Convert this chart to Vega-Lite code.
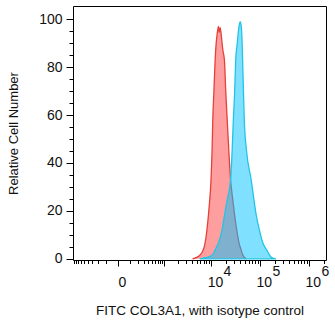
{
  "$schema": "https://vega.github.io/schema/vega-lite/v6.json",
  "width": 253,
  "height": 254,
  "autosize": {"type": "none"},
  "padding": {"left": 73, "top": 6, "right": 9, "bottom": 65},
  "background": "white",
  "config": {
    "view": {"stroke": "#000", "strokeWidth": 1},
    "axis": {
      "labelFont": "Liberation Sans",
      "titleFont": "Liberation Sans",
      "labelColor": "#111",
      "titleColor": "#111",
      "tickColor": "#000",
      "titleFontWeight": "normal",
      "grid": false,
      "domain": false,
      "labelFlush": false,
      "labelOverlap": false,
      "labelBound": false
    }
  },
  "datasets": {
    "isotype": [
      {"x": 4125, "count": 0},
      {"x": 5290, "count": 0.8},
      {"x": 6440, "count": 2.5},
      {"x": 7460, "count": 6},
      {"x": 8240, "count": 12},
      {"x": 9090, "count": 21},
      {"x": 10010, "count": 33},
      {"x": 10510, "count": 45},
      {"x": 10890, "count": 58},
      {"x": 11490, "count": 70},
      {"x": 12180, "count": 83},
      {"x": 12790, "count": 90},
      {"x": 13430, "count": 94},
      {"x": 14240, "count": 97},
      {"x": 14810, "count": 94.5},
      {"x": 15390, "count": 96.5},
      {"x": 16160, "count": 94},
      {"x": 16710, "count": 91},
      {"x": 17560, "count": 87},
      {"x": 18890, "count": 83},
      {"x": 20110, "count": 70},
      {"x": 21540, "count": 58},
      {"x": 23280, "count": 45},
      {"x": 25270, "count": 33},
      {"x": 27850, "count": 25},
      {"x": 30680, "count": 18},
      {"x": 33810, "count": 12},
      {"x": 37240, "count": 7},
      {"x": 41050, "count": 4},
      {"x": 45240, "count": 1.5},
      {"x": 52290, "count": 0}
    ],
    "col3a1": [
      {"x": 5840, "count": 0},
      {"x": 7840, "count": 0.5},
      {"x": 9540, "count": 1},
      {"x": 11050, "count": 2},
      {"x": 12180, "count": 3.75},
      {"x": 14100, "count": 6.5},
      {"x": 16890, "count": 12},
      {"x": 18890, "count": 18},
      {"x": 21540, "count": 24.6},
      {"x": 25270, "count": 33},
      {"x": 27180, "count": 45},
      {"x": 28800, "count": 58},
      {"x": 30680, "count": 70},
      {"x": 32210, "count": 83},
      {"x": 34650, "count": 90},
      {"x": 36710, "count": 95.4},
      {"x": 38350, "count": 98},
      {"x": 39680, "count": 99},
      {"x": 41050, "count": 98},
      {"x": 42470, "count": 95.4},
      {"x": 44560, "count": 83},
      {"x": 46340, "count": 70},
      {"x": 48190, "count": 58},
      {"x": 53600, "count": 45},
      {"x": 66600, "count": 33},
      {"x": 75950, "count": 24.6},
      {"x": 84890, "count": 18},
      {"x": 98130, "count": 12},
      {"x": 113450, "count": 7},
      {"x": 137590, "count": 3.75},
      {"x": 159140, "count": 1.5},
      {"x": 175130, "count": 0.5},
      {"x": 212630, "count": 0}
    ]
  },
  "layer": [
    {
      "data": {"name": "isotype"},
      "mark": {"type": "area", "interpolate": "monotone", "color": "#ff9e9e", "opacity": 1},
      "encoding": {
        "x": {
          "field": "x", "type": "quantitative",
          "scale": {"type": "symlog", "constant": 128.7, "domain": [-936, 2240000], "nice": false, "zero": false},
          "axis": {
            "orient": "bottom",
            "values": [-1000, 0, 1000, 10000, 100000, 1000000],
            "labelExpr": "datum.value === 0 ? '0' : (datum.value >= 10000 ? '10' : '')",
            "tickSize": 6,
            "labelPadding": 9,
            "labelOffset": 4,
            "labelFontSize": 14,
            "title": "FITC COL3A1, with isotype control",
            "titleFontSize": 13.5,
            "titlePadding": 14
          }
        },
        "y": {
          "field": "count", "type": "quantitative",
          "scale": {"domain": [-0.5, 105.5], "nice": false, "zero": false},
          "axis": {
            "orient": "left",
            "values": [0, 20, 40, 60, 80, 100],
            "tickSize": 7,
            "labelPadding": 4,
            "labelFontSize": 14,
            "title": "Relative Cell Number",
            "titleFontSize": 13,
            "titlePadding": 18
          }
        }
      }
    },
    {
      "data": {"name": "isotype"},
      "mark": {"type": "line", "interpolate": "monotone", "color": "#e6403a", "strokeWidth": 1.3},
      "encoding": {
        "x": {
          "field": "x", "type": "quantitative",
          "scale": {"type": "symlog", "constant": 128.7, "domain": [-936, 2240000], "nice": false, "zero": false},
          "axis": {
            "orient": "bottom",
            "values": [10000, 100000, 1000000],
            "labelExpr": "datum.value === 10000 ? '4' : (datum.value === 100000 ? '5' : '6')",
            "ticks": false,
            "tickSize": 0,
            "labelPadding": 4,
            "labelOffset": 16,
            "labelFontSize": 14,
            "title": null
          }
        },
        "y": {
          "field": "count", "type": "quantitative",
          "scale": {"domain": [-0.5, 105.5], "nice": false, "zero": false},
          "axis": null
        }
      }
    },
    {
      "data": {"name": "col3a1"},
      "mark": {"type": "area", "interpolate": "monotone", "fill": "#00c3ff", "fillOpacity": 0.5, "stroke": "#22c4e6", "strokeWidth": 1.3},
      "encoding": {
        "x": {
          "field": "x", "type": "quantitative",
          "scale": {"type": "symlog", "constant": 128.7, "domain": [-936, 2240000], "nice": false, "zero": false},
          "axis": {
            "orient": "bottom",
            "values": [-900, -800, -700, -600, -500, -400, -300, -200, -100, 100, 200, 300, 400, 500, 600, 700, 800, 900, 2000, 3000, 4000, 5000, 6000, 7000, 8000, 9000, 20000, 30000, 40000, 50000, 60000, 70000, 80000, 90000, 200000, 300000, 400000, 500000, 600000, 700000, 800000, 900000, 2000000],
            "labels": false,
            "tickSize": 3.5,
            "title": null
          }
        },
        "y": {
          "field": "count", "type": "quantitative",
          "scale": {"domain": [-0.5, 105.5], "nice": false, "zero": false},
          "axis": {
            "orient": "left",
            "values": [5, 10, 15, 25, 30, 35, 45, 50, 55, 65, 70, 75, 85, 90, 95],
            "labels": false,
            "tickSize": 4,
            "title": null
          }
        }
      }
    }
  ],
  "resolve": {
    "scale": {"x": "shared", "y": "shared"},
    "axis": {"x": "independent", "y": "independent"}
  }
}
